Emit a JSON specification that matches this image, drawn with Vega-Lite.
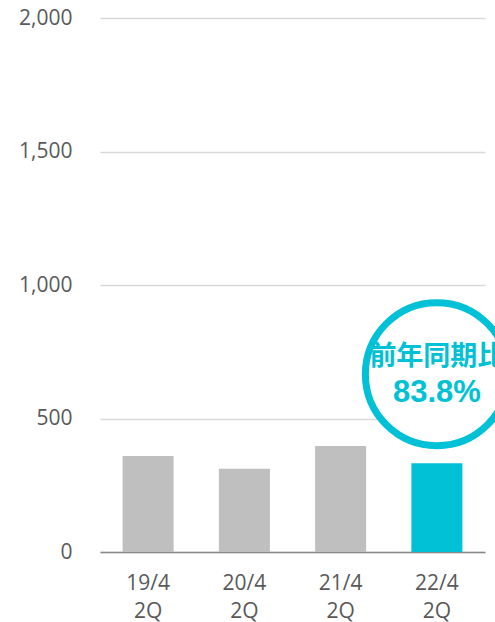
{
  "$schema": "https://vega.github.io/schema/vega-lite/v6.json",
  "autosize": "none",
  "width": 385,
  "height": 534,
  "padding": {"left": 100, "top": 18, "right": 10, "bottom": 70},
  "background": "white",
  "config": {"view": {"stroke": null}, "font": "Open Sans"},
  "datasets": {
    "sales": [
      {"period": "19/4 2Q", "value": 360},
      {"period": "20/4 2Q", "value": 312},
      {"period": "21/4 2Q", "value": 397},
      {"period": "22/4 2Q", "value": 332}
    ],
    "note": [
      {"period": "22/4 2Q", "title": "前年同期比", "ratio": "83.8%"}
    ]
  },
  "layer": [
    {
      "data": {"name": "sales"},
      "mark": {"type": "bar", "width": {"band": 0.53}},
      "encoding": {
        "x": {
          "field": "period", "type": "nominal", "sort": null,
          "scale": {"paddingInner": 0, "paddingOuter": 0},
          "axis": {
            "title": null, "labelAngle": 0, "ticks": false,
            "domainColor": "#898989", "domainWidth": 1.3,
            "labelFont": "Open Sans", "labelFontSize": 21, "labelColor": "#595959",
            "labelPadding": 31, "labelLineHeight": 28, "labelBaseline": "middle",
            "labelExpr": "split(datum.label, ' ')"
          }
        },
        "y": {
          "field": "value", "type": "quantitative",
          "scale": {"domain": [0, 2000], "nice": false},
          "axis": {
            "title": null, "values": [0, 500, 1000, 1500, 2000], "format": ",d",
            "ticks": false, "domain": false, "gridColor": "#d9d9d9", "gridWidth": 1.3,
            "labelFont": "Open Sans", "labelFontSize": 21, "labelColor": "#595959",
            "labelPadding": 28
          }
        },
        "color": {
          "condition": {"test": "datum.period === '22/4 2Q'", "value": "#00c1d5"},
          "value": "#bfbfbf"
        }
      }
    },
    {
      "data": {"name": "note"},
      "mark": {"type": "point", "shape": "circle", "filled": false, "fill": "white", "fillOpacity": 1, "stroke": "#00c1d5", "strokeWidth": 7, "opacity": 1, "size": 20449},
      "encoding": {
        "x": {"field": "period", "type": "nominal"},
        "y": {"datum": 666}
      }
    },
    {
      "data": {"name": "note"},
      "mark": {"type": "text", "font": "Noto Sans CJK JP", "fontWeight": "bold", "fontSize": 27, "color": "#00c1d5", "baseline": "middle", "align": "center"},
      "encoding": {
        "x": {"field": "period", "type": "nominal"},
        "y": {"datum": 730},
        "text": {"field": "title"}
      }
    },
    {
      "data": {"name": "note"},
      "mark": {"type": "text", "font": "Liberation Sans", "fontWeight": "bold", "fontSize": 31, "color": "#00c1d5", "baseline": "middle", "align": "center"},
      "encoding": {
        "x": {"field": "period", "type": "nominal"},
        "y": {"datum": 594},
        "text": {"field": "ratio"}
      }
    }
  ]
}
